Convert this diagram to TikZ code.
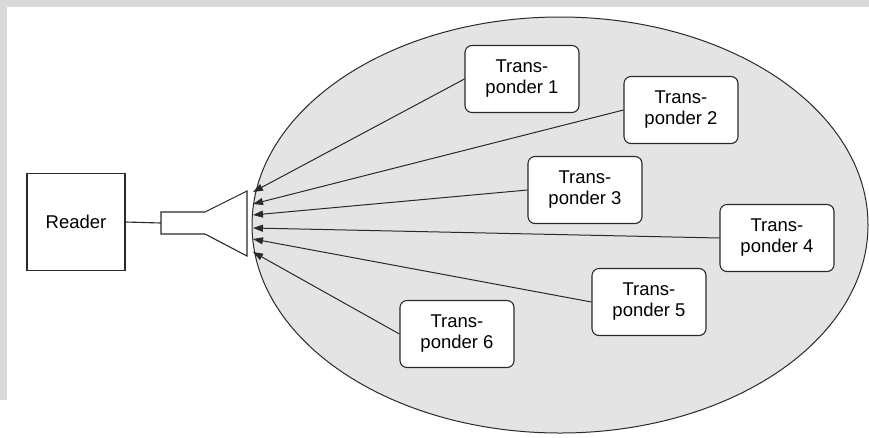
\documentclass[tikz,border=0pt]{standalone}
\usepackage{fontspec}
\setmainfont{Liberation Sans}
\usetikzlibrary{arrows.meta}
\definecolor{fieldgray}{HTML}{E4E4E4}
\definecolor{bandgray}{HTML}{DADADA}
\definecolor{inkgray}{HTML}{2A2A2A}
\begin{document}
\begin{tikzpicture}[x=1pt,y=-1pt,
  line width=1.1pt,
  txt/.style={font=\fontsize{18.5}{21}\selectfont},
  readerbox/.style={draw=inkgray,fill=white,minimum width=98pt,minimum height=97pt,inner sep=0pt,txt},
  tagbox/.style={draw=inkgray,fill=white,rounded corners=7pt,minimum width=114pt,minimum height=67pt,inner sep=0pt,align=center,txt},
  signal/.style={draw=inkgray,line width=1pt,-{Triangle[length=10pt,width=7pt]}}]
\useasboundingbox (0,0) rectangle (869,437);
% paper edge bands
\fill[bandgray] (0,0) rectangle (869,7);
\fill[bandgray] (0,0) rectangle (7,400);
% reading field
\draw[draw=inkgray,line width=1pt,fill=fieldgray] (560,225) ellipse [x radius=308pt, y radius=208pt];
% reader and antenna
\node[readerbox] (reader) at (76,222) {Reader};
\coordinate (hornin) at (161,223);
\draw[draw=inkgray,fill=white] (205,212) -- (161,212) -- (161,234) -- (205,234) -- (247,256) -- (247,191) -- cycle;
\draw[draw=inkgray] (reader.east) -- (hornin);
% transponders
\node[tagbox] (t1) at (522,79) {Trans-\\ponder 1};
\node[tagbox] (t2) at (681,110) {Trans-\\ponder 2};
\node[tagbox] (t3) at (585,190) {Trans-\\ponder 3};
\node[tagbox] (t4) at (777,238) {Trans-\\ponder 4};
\node[tagbox] (t5) at (649,302) {Trans-\\ponder 5};
\node[tagbox] (t6) at (457,334) {Trans-\\ponder 6};
% replies arriving at the antenna
\coordinate (a1) at (253,192);
\coordinate (a2) at (253,204);
\coordinate (a3) at (253,215);
\coordinate (a4) at (253,228);
\coordinate (a5) at (253,239);
\coordinate (a6) at (253,252);
\draw[signal] (t1.west) -- (a1);
\draw[signal] (t2.west) -- (a2);
\draw[signal] (t3.west) -- (a3);
\draw[signal] (t4.west) -- (a4);
\draw[signal] (t5.west) -- (a5);
\draw[signal] (t6.west) -- (a6);
\end{tikzpicture}
\end{document}
